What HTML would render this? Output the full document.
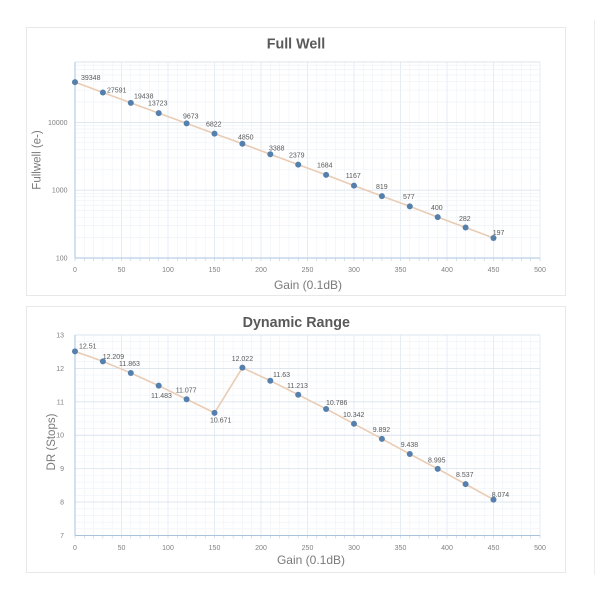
<!DOCTYPE html>
<html>
<head>
<meta charset="utf-8">
<style>
html,body{margin:0;padding:0;background:#fff;width:600px;height:600px;overflow:hidden;}
svg{display:block;}
text{font-family:"Liberation Sans",sans-serif;}
.tick{font-size:7px;fill:#808080;}
.dl{font-size:7px;fill:#595959;}
.ttl{font-size:14.3px;font-weight:bold;fill:#595959;}
.ax{font-size:12px;fill:#7a7a7a;}
</style>
</head>
<body>
<svg width="600" height="600" viewBox="0 0 600 600" xmlns="http://www.w3.org/2000/svg">
<rect x="0" y="0" width="600" height="600" fill="#fff"/>
<!-- cards -->
<rect x="26.5" y="27.5" width="539" height="268" fill="#fff" stroke="#e8e8e8" stroke-width="1"/>
<rect x="26.5" y="306.5" width="539" height="266" fill="#fff" stroke="#e8e8e8" stroke-width="1"/>
<line x1="594.5" y1="20" x2="594.5" y2="575" stroke="#ececec" stroke-width="1"/>

<!-- ===== TOP CHART ===== -->
<!-- vertical minor grid -->
<line x1="74.7" y1="160" x2="541" y2="160" stroke="#eef2f8" stroke-width="196" stroke-dasharray="0.6 8.7"/>
<!-- vertical major grid every 50 -->
<line x1="74.6" y1="160" x2="541" y2="160" stroke="#e1e9f3" stroke-width="196" stroke-dasharray="0.8 45.7"/>
<!-- horizontal minor grid -->
<g stroke="#eef2f8" stroke-width="0.7">
<line x1="75" x2="540" y1="237.59" y2="237.59"/><line x1="75" x2="540" y1="225.65" y2="225.65"/>
<line x1="75" x2="540" y1="217.18" y2="217.18"/><line x1="75" x2="540" y1="210.61" y2="210.61"/>
<line x1="75" x2="540" y1="205.24" y2="205.24"/><line x1="75" x2="540" y1="200.70" y2="200.70"/>
<line x1="75" x2="540" y1="196.77" y2="196.77"/><line x1="75" x2="540" y1="193.30" y2="193.30"/>
<line x1="75" x2="540" y1="169.79" y2="169.79"/><line x1="75" x2="540" y1="157.85" y2="157.85"/>
<line x1="75" x2="540" y1="149.38" y2="149.38"/><line x1="75" x2="540" y1="142.81" y2="142.81"/>
<line x1="75" x2="540" y1="137.44" y2="137.44"/><line x1="75" x2="540" y1="132.90" y2="132.90"/>
<line x1="75" x2="540" y1="128.97" y2="128.97"/><line x1="75" x2="540" y1="125.50" y2="125.50"/>
<line x1="75" x2="540" y1="101.99" y2="101.99"/><line x1="75" x2="540" y1="90.05" y2="90.05"/>
<line x1="75" x2="540" y1="81.58" y2="81.58"/><line x1="75" x2="540" y1="75.01" y2="75.01"/>
<line x1="75" x2="540" y1="69.64" y2="69.64"/><line x1="75" x2="540" y1="65.10" y2="65.10"/>
</g>
<!-- horizontal major grid -->
<g stroke="#dbe4ef" stroke-width="0.9">
<line x1="75" x2="540" y1="190.2" y2="190.2"/>
<line x1="75" x2="540" y1="122.4" y2="122.4"/>
<line x1="75" x2="540" y1="62" y2="62"/>
</g>
<!-- axes -->
<line x1="75" y1="62" x2="75" y2="258" stroke="#a9c3df" stroke-width="1"/>
<line x1="75" y1="258" x2="540" y2="258" stroke="#a9c3df" stroke-width="1"/>
<line x1="74.7" y1="259.5" x2="541" y2="259.5" stroke="#b8cde4" stroke-width="3" stroke-dasharray="0.6 8.7"/>
<!-- y tick labels -->
<text class="tick" x="67.5" y="124.8" text-anchor="end">10000</text>
<text class="tick" x="67.5" y="192.6" text-anchor="end">1000</text>
<text class="tick" x="67.5" y="260.4" text-anchor="end">100</text>
<!-- x tick labels -->
<g class="tick" text-anchor="middle">
<text x="75" y="271.8">0</text><text x="121.5" y="271.8">50</text><text x="168" y="271.8">100</text>
<text x="214.5" y="271.8">150</text><text x="261" y="271.8">200</text><text x="307.5" y="271.8">250</text>
<text x="354" y="271.8">300</text><text x="400.5" y="271.8">350</text><text x="447" y="271.8">400</text>
<text x="493.5" y="271.8">450</text><text x="540" y="271.8">500</text>
</g>
<!-- series -->
<polyline fill="none" stroke="#e9ccb3" stroke-width="1.6" points="75,82.07 102.9,92.52 130.8,102.83 158.7,113.08 186.6,123.38 214.5,133.66 242.4,143.71 270.3,154.27 298.2,164.68 326.1,174.85 354,185.65 381.9,196.08 409.8,206.39 437.7,217.18 465.6,227.47 493.5,238.03"/>
<g fill="#5580ad">
<circle cx="75" cy="82.07" r="3"/><circle cx="102.9" cy="92.52" r="3"/><circle cx="130.8" cy="102.83" r="3"/>
<circle cx="158.7" cy="113.08" r="3"/><circle cx="186.6" cy="123.38" r="3"/><circle cx="214.5" cy="133.66" r="3"/>
<circle cx="242.4" cy="143.71" r="3"/><circle cx="270.3" cy="154.27" r="3"/><circle cx="298.2" cy="164.68" r="3"/>
<circle cx="326.1" cy="174.85" r="3"/><circle cx="354" cy="185.65" r="3"/><circle cx="381.9" cy="196.08" r="3"/>
<circle cx="409.8" cy="206.39" r="3"/><circle cx="437.7" cy="217.18" r="3"/><circle cx="465.6" cy="227.47" r="3"/>
<circle cx="493.5" cy="238.03" r="3"/>
</g>
<g class="dl">
<text x="81" y="80.2">39348</text>
<text x="107" y="92.5">27591</text>
<text x="134" y="98.5">19438</text>
<text x="148" y="105.5">13723</text>
<text x="183" y="118.5">9673</text>
<text x="206" y="126.5">6822</text>
<text x="238" y="139.5">4850</text>
<text x="269" y="150.5">3388</text>
<text x="289" y="157.5">2379</text>
<text x="317" y="167.5">1684</text>
<text x="345.7" y="178.2">1167</text>
<text x="376" y="189.2">819</text>
<text x="403" y="199.2">577</text>
<text x="431" y="209.8">400</text>
<text x="459" y="220.8">282</text>
<text x="492.7" y="234.8">197</text>
</g>
<text class="ttl" x="296" y="48.5" text-anchor="middle">Full Well</text>
<text class="ax" x="308" y="289.2" text-anchor="middle">Gain (0.1dB)</text>
<text class="ax" style="font-size:11.5px" x="0" y="0" text-anchor="middle" transform="translate(40.5,160) rotate(-90)">Fullwell (e-)</text>

<!-- ===== BOTTOM CHART ===== -->
<line x1="74.7" y1="435.25" x2="541" y2="435.25" stroke="#eef2f8" stroke-width="200.5" stroke-dasharray="0.6 8.7"/>
<line x1="74.6" y1="435.25" x2="541" y2="435.25" stroke="#e1e9f3" stroke-width="200.5" stroke-dasharray="0.8 45.7"/>
<line x1="307.5" y1="334.7" x2="307.5" y2="536" stroke="#eef2f8" stroke-width="465" stroke-dasharray="0.6 6.084"/>
<g stroke="#dbe4ef" stroke-width="0.9">
<line x1="75" x2="540" y1="502.08" y2="502.08"/>
<line x1="75" x2="540" y1="468.66" y2="468.66"/>
<line x1="75" x2="540" y1="435.24" y2="435.24"/>
<line x1="75" x2="540" y1="401.82" y2="401.82"/>
<line x1="75" x2="540" y1="368.40" y2="368.40"/>
<line x1="75" x2="540" y1="335" y2="335"/>
</g>
<line x1="75" y1="335" x2="75" y2="535.5" stroke="#a9c3df" stroke-width="1"/>
<line x1="75" y1="535.5" x2="540" y2="535.5" stroke="#a9c3df" stroke-width="1"/>
<line x1="74.7" y1="537" x2="541" y2="537" stroke="#b8cde4" stroke-width="3" stroke-dasharray="0.6 8.7"/>
<g class="tick" text-anchor="end">
<text x="64" y="337.5">13</text>
<text x="64" y="370.9">12</text>
<text x="64" y="404.3">11</text>
<text x="64" y="437.7">10</text>
<text x="64" y="471.1">9</text>
<text x="64" y="504.5">8</text>
<text x="64" y="538">7</text>
</g>
<g class="tick" text-anchor="middle">
<text x="75" y="549.8">0</text><text x="121.5" y="549.8">50</text><text x="168" y="549.8">100</text>
<text x="214.5" y="549.8">150</text><text x="261" y="549.8">200</text><text x="307.5" y="549.8">250</text>
<text x="354" y="549.8">300</text><text x="400.5" y="549.8">350</text><text x="447" y="549.8">400</text>
<text x="493.5" y="549.8">450</text><text x="540" y="549.8">500</text>
</g>
<polyline fill="none" stroke="#e9ccb3" stroke-width="1.6" points="75,351.36 102.9,361.42 130.8,372.98 158.7,385.68 186.6,399.25 214.5,412.82 242.4,367.66 270.3,380.77 298.2,394.70 326.1,408.97 354,423.81 381.9,438.85 409.8,454.02 437.7,468.83 465.6,484.13 493.5,499.61"/>
<g fill="#5580ad">
<circle cx="75" cy="351.36" r="3"/><circle cx="102.9" cy="361.42" r="3"/><circle cx="130.8" cy="372.98" r="3"/>
<circle cx="158.7" cy="385.68" r="3"/><circle cx="186.6" cy="399.25" r="3"/><circle cx="214.5" cy="412.82" r="3"/>
<circle cx="242.4" cy="367.66" r="3"/><circle cx="270.3" cy="380.77" r="3"/><circle cx="298.2" cy="394.70" r="3"/>
<circle cx="326.1" cy="408.97" r="3"/><circle cx="354" cy="423.81" r="3"/><circle cx="381.9" cy="438.85" r="3"/>
<circle cx="409.8" cy="454.02" r="3"/><circle cx="437.7" cy="468.83" r="3"/><circle cx="465.6" cy="484.13" r="3"/>
<circle cx="493.5" cy="499.61" r="3"/>
</g>
<g class="dl">
<text x="79" y="348.5">12.51</text>
<text x="102.7" y="359.2">12.209</text>
<text x="119" y="365.8">11.863</text>
<text x="151" y="398.2">11.483</text>
<text x="175.7" y="392.5">11.077</text>
<text x="210" y="422.5">10.671</text>
<text x="231.7" y="360.8">12.022</text>
<text x="273" y="377.2">11.63</text>
<text x="287" y="387.8">11.213</text>
<text x="326" y="405.2">10.786</text>
<text x="343" y="416.8">10.342</text>
<text x="372.7" y="431.8">9.892</text>
<text x="400.7" y="447.2">9.438</text>
<text x="428" y="462.5">8.995</text>
<text x="456" y="477.2">8.537</text>
<text x="491.7" y="496.8">8.074</text>
</g>
<text class="ttl" x="296.3" y="326.8" text-anchor="middle">Dynamic Range</text>
<text class="ax" x="311" y="564.2" text-anchor="middle">Gain (0.1dB)</text>
<text class="ax" style="font-size:11.5px" x="0" y="0" text-anchor="middle" transform="translate(55,442) rotate(-90)">DR (Stops)</text>
</svg>
</body>
</html>
